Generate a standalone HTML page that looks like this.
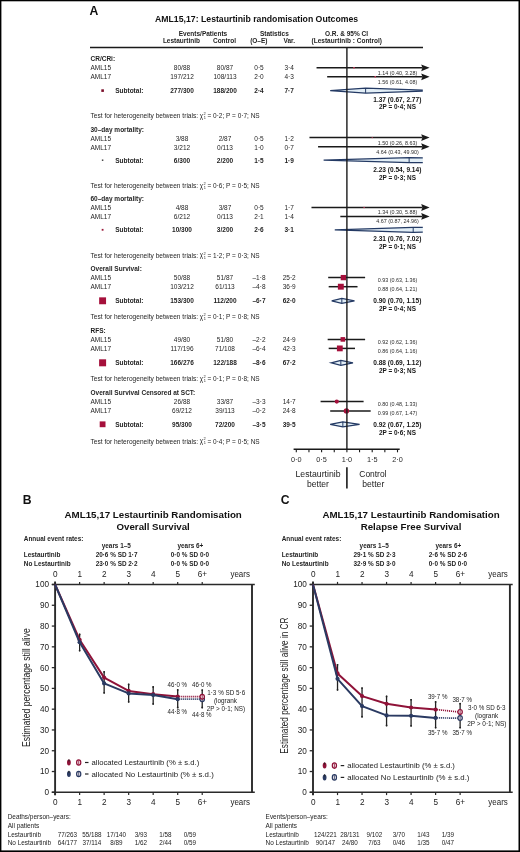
<!DOCTYPE html>
<html><head><meta charset="utf-8"><style>
html,body{margin:0;padding:0;background:#fff;}
body{width:520px;height:852px;overflow:hidden;}
svg{display:block;font-family:"Liberation Sans", sans-serif;}
</style></head><body>
<svg width="520" height="852" viewBox="0 0 520 852">
<defs><filter id="soft" x="-2%" y="-2%" width="104%" height="104%" color-interpolation-filters="sRGB"><feGaussianBlur stdDeviation="0.3"/></filter></defs>
<rect x="0" y="0" width="520" height="852" fill="#fff"/>
<g filter="url(#soft)">
<text x="89.60" y="14.80" font-size="12.2" font-weight="bold" fill="#111">A</text>
<text x="155.00" y="22.30" font-size="9.2" font-weight="bold" fill="#111" textLength="203.20" lengthAdjust="spacingAndGlyphs">AML15,17: Lestaurtinib randomisation Outcomes</text>
<text x="203.00" y="36.30" font-size="6.5" font-weight="bold" text-anchor="middle" fill="#1e1e1e">Events/Patients</text>
<text x="274.40" y="36.30" font-size="6.5" font-weight="bold" text-anchor="middle" fill="#1e1e1e">Statistics</text>
<text x="346.50" y="36.30" font-size="6.5" font-weight="bold" text-anchor="middle" fill="#1e1e1e">O.R. &amp; 95% CI</text>
<text x="181.50" y="43.30" font-size="6.5" font-weight="bold" text-anchor="middle" fill="#1e1e1e">Lestaurtinib</text>
<text x="224.50" y="43.30" font-size="6.5" font-weight="bold" text-anchor="middle" fill="#1e1e1e">Control</text>
<text x="258.80" y="43.30" font-size="6.5" font-weight="bold" text-anchor="middle" fill="#1e1e1e">(O–E)</text>
<text x="289.30" y="43.30" font-size="6.5" font-weight="bold" text-anchor="middle" fill="#1e1e1e">Var.</text>
<text x="346.80" y="43.30" font-size="6.5" font-weight="bold" text-anchor="middle" fill="#1e1e1e">(Lestaurtinib : Control)</text>
<line x1="90.00" y1="47.40" x2="423.00" y2="47.40" stroke="#1a1a1a" stroke-width="1.5"/>
<text x="90.50" y="61.40" font-size="6.5" font-weight="bold" fill="#1e1e1e">CR/CRi:</text>
<text x="90.50" y="70.30" font-size="6.5" fill="#1e1e1e">AML15</text>
<text x="182.00" y="70.30" font-size="6.5" text-anchor="middle" fill="#1e1e1e">80/88</text>
<text x="225.00" y="70.30" font-size="6.5" text-anchor="middle" fill="#1e1e1e">80/87</text>
<text x="259.00" y="70.30" font-size="6.5" text-anchor="middle" fill="#1e1e1e">0·5</text>
<text x="289.20" y="70.30" font-size="6.5" text-anchor="middle" fill="#1e1e1e">3·4</text>
<text x="90.50" y="79.30" font-size="6.5" fill="#1e1e1e">AML17</text>
<text x="182.00" y="79.30" font-size="6.5" text-anchor="middle" fill="#1e1e1e">197/212</text>
<text x="225.00" y="79.30" font-size="6.5" text-anchor="middle" fill="#1e1e1e">108/113</text>
<text x="259.00" y="79.30" font-size="6.5" text-anchor="middle" fill="#1e1e1e">2·0</text>
<text x="289.20" y="79.30" font-size="6.5" text-anchor="middle" fill="#1e1e1e">4·3</text>
<rect x="101.30" y="89.30" width="2.60" height="2.60" fill="#7a0e2a"/>
<text x="115.20" y="93.00" font-size="6.5" font-weight="bold" fill="#1e1e1e">Subtotal:</text>
<text x="182.00" y="93.00" font-size="6.5" font-weight="bold" text-anchor="middle" fill="#1e1e1e">277/300</text>
<text x="225.00" y="93.00" font-size="6.5" font-weight="bold" text-anchor="middle" fill="#1e1e1e">188/200</text>
<text x="259.00" y="93.00" font-size="6.5" font-weight="bold" text-anchor="middle" fill="#1e1e1e">2·4</text>
<text x="289.20" y="93.00" font-size="6.5" font-weight="bold" text-anchor="middle" fill="#1e1e1e">7·7</text>
<text x="90.50" y="118.20" font-size="6.5" fill="#1e1e1e" textLength="107.60" lengthAdjust="spacingAndGlyphs">Test for heterogeneity between trials:</text>
<text x="199.70" y="118.00" font-size="6.3" fill="#1e1e1e">χ</text>
<text x="203.50" y="115.10" font-size="3.9" fill="#1e1e1e">2</text>
<text x="203.80" y="119.10" font-size="3.9" fill="#1e1e1e">1</text>
<text x="207.50" y="118.20" font-size="6.5" fill="#1e1e1e" textLength="52.20" lengthAdjust="spacingAndGlyphs">= 0·2; P = 0·7; NS</text>
<line x1="316.54" y1="67.80" x2="422.50" y2="67.80" stroke="#1a1a1a" stroke-width="1.5"/>
<path d="M421.2,64.40 L429.6,67.80 L421.2,71.20 L422.4,67.80 Z" fill="#1a1a1a" stroke="none" stroke-width="1"/>
<rect x="353.23" y="67.05" width="1.50" height="1.50" fill="#d04060"/>
<text x="397.50" y="74.60" font-size="5.4" text-anchor="middle" fill="#2a2a2a">1.14 (0.40, 3.28)</text>
<line x1="327.17" y1="76.80" x2="422.50" y2="76.80" stroke="#1a1a1a" stroke-width="1.5"/>
<path d="M421.2,73.40 L429.6,76.80 L421.2,80.20 L422.4,76.80 Z" fill="#1a1a1a" stroke="none" stroke-width="1"/>
<rect x="374.49" y="76.05" width="1.50" height="1.50" fill="#d04060"/>
<text x="397.50" y="83.60" font-size="5.4" text-anchor="middle" fill="#2a2a2a">1.56 (0.61, 4.08)</text>
<path d="M330.20,90.60 L365.62,88.10 L422.80,90.10 L422.80,91.10 L365.62,93.10 Z" fill="#e2eef6" stroke="none" stroke-width="1"/>
<path d="M422.80,90.10 L365.62,88.10 L330.20,90.60 L365.62,93.10 L422.80,91.10" fill="none" stroke="#243a64" stroke-width="1.3"/>
<line x1="365.62" y1="88.10" x2="365.62" y2="93.10" stroke="#243a64" stroke-width="1.0"/>
<text x="397.30" y="101.50" font-size="6.55" font-weight="bold" text-anchor="middle" fill="#151515">1.37 (0.67, 2.77)</text>
<text x="397.50" y="109.40" font-size="6.4" font-weight="bold" text-anchor="middle" fill="#151515">2P = 0·4; NS</text>
<text x="90.50" y="131.60" font-size="6.5" font-weight="bold" fill="#1e1e1e">30–day mortality:</text>
<text x="90.50" y="140.50" font-size="6.5" fill="#1e1e1e">AML15</text>
<text x="182.00" y="140.50" font-size="6.5" text-anchor="middle" fill="#1e1e1e">3/88</text>
<text x="225.00" y="140.50" font-size="6.5" text-anchor="middle" fill="#1e1e1e">2/87</text>
<text x="259.00" y="140.50" font-size="6.5" text-anchor="middle" fill="#1e1e1e">0·5</text>
<text x="289.20" y="140.50" font-size="6.5" text-anchor="middle" fill="#1e1e1e">1·2</text>
<text x="90.50" y="149.50" font-size="6.5" fill="#1e1e1e">AML17</text>
<text x="182.00" y="149.50" font-size="6.5" text-anchor="middle" fill="#1e1e1e">3/212</text>
<text x="225.00" y="149.50" font-size="6.5" text-anchor="middle" fill="#1e1e1e">0/113</text>
<text x="259.00" y="149.50" font-size="6.5" text-anchor="middle" fill="#1e1e1e">1·0</text>
<text x="289.20" y="149.50" font-size="6.5" text-anchor="middle" fill="#1e1e1e">0·7</text>
<rect x="101.85" y="159.45" width="1.50" height="1.50" fill="#444"/>
<text x="115.20" y="163.20" font-size="6.5" font-weight="bold" fill="#1e1e1e">Subtotal:</text>
<text x="182.00" y="163.20" font-size="6.5" font-weight="bold" text-anchor="middle" fill="#1e1e1e">6/300</text>
<text x="225.00" y="163.20" font-size="6.5" font-weight="bold" text-anchor="middle" fill="#1e1e1e">2/200</text>
<text x="259.00" y="163.20" font-size="6.5" font-weight="bold" text-anchor="middle" fill="#1e1e1e">1·5</text>
<text x="289.20" y="163.20" font-size="6.5" font-weight="bold" text-anchor="middle" fill="#1e1e1e">1·9</text>
<text x="90.50" y="188.40" font-size="6.5" fill="#1e1e1e" textLength="107.60" lengthAdjust="spacingAndGlyphs">Test for heterogeneity between trials:</text>
<text x="199.70" y="188.20" font-size="6.3" fill="#1e1e1e">χ</text>
<text x="203.50" y="185.30" font-size="3.9" fill="#1e1e1e">2</text>
<text x="203.80" y="189.30" font-size="3.9" fill="#1e1e1e">1</text>
<text x="207.50" y="188.40" font-size="6.5" fill="#1e1e1e" textLength="52.20" lengthAdjust="spacingAndGlyphs">= 0·6; P = 0·5; NS</text>
<line x1="309.46" y1="137.60" x2="422.50" y2="137.60" stroke="#1a1a1a" stroke-width="1.5"/>
<path d="M421.2,134.20 L429.6,137.60 L421.2,141.00 L422.4,137.60 Z" fill="#1a1a1a" stroke="none" stroke-width="1"/>
<rect x="371.70" y="137.10" width="1.00" height="1.00" fill="#d04060"/>
<text x="397.50" y="144.80" font-size="5.4" text-anchor="middle" fill="#2a2a2a">1.50 (0.26, 8.63)</text>
<line x1="318.06" y1="146.70" x2="422.50" y2="146.70" stroke="#1a1a1a" stroke-width="1.5"/>
<path d="M421.2,143.30 L429.6,146.70 L421.2,150.10 L422.4,146.70 Z" fill="#1a1a1a" stroke="none" stroke-width="1"/>
<text x="397.50" y="153.80" font-size="5.4" text-anchor="middle" fill="#2a2a2a">4.64 (0.43, 49.90)</text>
<path d="M323.62,160.20 L409.14,157.70 L422.80,157.80 L422.80,162.60 L409.14,162.70 Z" fill="#e2eef6" stroke="none" stroke-width="1"/>
<path d="M422.80,157.80 L409.14,157.70 L323.62,160.20 L409.14,162.70 L422.80,162.60" fill="none" stroke="#243a64" stroke-width="1.3"/>
<line x1="409.14" y1="157.70" x2="409.14" y2="162.70" stroke="#243a64" stroke-width="1.0"/>
<text x="397.30" y="171.70" font-size="6.55" font-weight="bold" text-anchor="middle" fill="#151515">2.23 (0.54, 9.14)</text>
<text x="397.50" y="179.60" font-size="6.4" font-weight="bold" text-anchor="middle" fill="#151515">2P = 0·3; NS</text>
<text x="90.50" y="200.80" font-size="6.5" font-weight="bold" fill="#1e1e1e">60–day mortality:</text>
<text x="90.50" y="209.70" font-size="6.5" fill="#1e1e1e">AML15</text>
<text x="182.00" y="209.70" font-size="6.5" text-anchor="middle" fill="#1e1e1e">4/88</text>
<text x="225.00" y="209.70" font-size="6.5" text-anchor="middle" fill="#1e1e1e">3/87</text>
<text x="259.00" y="209.70" font-size="6.5" text-anchor="middle" fill="#1e1e1e">0·5</text>
<text x="289.20" y="209.70" font-size="6.5" text-anchor="middle" fill="#1e1e1e">1·7</text>
<text x="90.50" y="218.70" font-size="6.5" fill="#1e1e1e">AML17</text>
<text x="182.00" y="218.70" font-size="6.5" text-anchor="middle" fill="#1e1e1e">6/212</text>
<text x="225.00" y="218.70" font-size="6.5" text-anchor="middle" fill="#1e1e1e">0/113</text>
<text x="259.00" y="218.70" font-size="6.5" text-anchor="middle" fill="#1e1e1e">2·1</text>
<text x="289.20" y="218.70" font-size="6.5" text-anchor="middle" fill="#1e1e1e">1·4</text>
<rect x="101.70" y="228.90" width="1.80" height="1.80" fill="#9a1a3a"/>
<text x="115.20" y="232.40" font-size="6.5" font-weight="bold" fill="#1e1e1e">Subtotal:</text>
<text x="182.00" y="232.40" font-size="6.5" font-weight="bold" text-anchor="middle" fill="#1e1e1e">10/300</text>
<text x="225.00" y="232.40" font-size="6.5" font-weight="bold" text-anchor="middle" fill="#1e1e1e">3/200</text>
<text x="259.00" y="232.40" font-size="6.5" font-weight="bold" text-anchor="middle" fill="#1e1e1e">2·6</text>
<text x="289.20" y="232.40" font-size="6.5" font-weight="bold" text-anchor="middle" fill="#1e1e1e">3·1</text>
<text x="90.50" y="257.60" font-size="6.5" fill="#1e1e1e" textLength="107.60" lengthAdjust="spacingAndGlyphs">Test for heterogeneity between trials:</text>
<text x="199.70" y="257.40" font-size="6.3" fill="#1e1e1e">χ</text>
<text x="203.50" y="254.50" font-size="3.9" fill="#1e1e1e">2</text>
<text x="203.80" y="258.50" font-size="3.9" fill="#1e1e1e">1</text>
<text x="207.50" y="257.60" font-size="6.5" fill="#1e1e1e" textLength="52.20" lengthAdjust="spacingAndGlyphs">= 1·2; P = 0·3; NS</text>
<line x1="311.48" y1="207.50" x2="422.50" y2="207.50" stroke="#1a1a1a" stroke-width="1.5"/>
<path d="M421.2,204.10 L429.6,207.50 L421.2,210.90 L422.4,207.50 Z" fill="#1a1a1a" stroke="none" stroke-width="1"/>
<rect x="363.50" y="206.90" width="1.20" height="1.20" fill="#d04060"/>
<text x="397.50" y="214.00" font-size="5.4" text-anchor="middle" fill="#2a2a2a">1.34 (0.30, 5.88)</text>
<line x1="340.32" y1="216.40" x2="422.50" y2="216.40" stroke="#1a1a1a" stroke-width="1.5"/>
<path d="M421.2,213.00 L429.6,216.40 L421.2,219.80 L422.4,216.40 Z" fill="#1a1a1a" stroke="none" stroke-width="1"/>
<text x="397.50" y="223.00" font-size="5.4" text-anchor="middle" fill="#2a2a2a">4.67 (0.87, 24.96)</text>
<path d="M334.76,229.80 L413.19,227.30 L422.80,227.40 L422.80,232.20 L413.19,232.30 Z" fill="#e2eef6" stroke="none" stroke-width="1"/>
<path d="M422.80,227.40 L413.19,227.30 L334.76,229.80 L413.19,232.30 L422.80,232.20" fill="none" stroke="#243a64" stroke-width="1.3"/>
<line x1="413.19" y1="227.30" x2="413.19" y2="232.30" stroke="#243a64" stroke-width="1.0"/>
<text x="397.30" y="240.90" font-size="6.55" font-weight="bold" text-anchor="middle" fill="#151515">2.31 (0.76, 7.02)</text>
<text x="397.50" y="248.80" font-size="6.4" font-weight="bold" text-anchor="middle" fill="#151515">2P = 0·1; NS</text>
<text x="90.50" y="271.00" font-size="6.5" font-weight="bold" fill="#1e1e1e">Overall Survival:</text>
<text x="90.50" y="279.90" font-size="6.5" fill="#1e1e1e">AML15</text>
<text x="182.00" y="279.90" font-size="6.5" text-anchor="middle" fill="#1e1e1e">50/88</text>
<text x="225.00" y="279.90" font-size="6.5" text-anchor="middle" fill="#1e1e1e">51/87</text>
<text x="259.00" y="279.90" font-size="6.5" text-anchor="middle" fill="#1e1e1e">–1·8</text>
<text x="289.20" y="279.90" font-size="6.5" text-anchor="middle" fill="#1e1e1e">25·2</text>
<text x="90.50" y="288.90" font-size="6.5" fill="#1e1e1e">AML17</text>
<text x="182.00" y="288.90" font-size="6.5" text-anchor="middle" fill="#1e1e1e">103/212</text>
<text x="225.00" y="288.90" font-size="6.5" text-anchor="middle" fill="#1e1e1e">61/113</text>
<text x="259.00" y="288.90" font-size="6.5" text-anchor="middle" fill="#1e1e1e">–4·8</text>
<text x="289.20" y="288.90" font-size="6.5" text-anchor="middle" fill="#1e1e1e">36·9</text>
<rect x="99.15" y="297.35" width="6.90" height="6.90" fill="#a5103b"/>
<text x="115.20" y="302.60" font-size="6.5" font-weight="bold" fill="#1e1e1e">Subtotal:</text>
<text x="182.00" y="302.60" font-size="6.5" font-weight="bold" text-anchor="middle" fill="#1e1e1e">153/300</text>
<text x="225.00" y="302.60" font-size="6.5" font-weight="bold" text-anchor="middle" fill="#1e1e1e">112/200</text>
<text x="259.00" y="302.60" font-size="6.5" font-weight="bold" text-anchor="middle" fill="#1e1e1e">–6·7</text>
<text x="289.20" y="302.60" font-size="6.5" font-weight="bold" text-anchor="middle" fill="#1e1e1e">62·0</text>
<text x="90.50" y="319.20" font-size="6.5" fill="#1e1e1e" textLength="107.60" lengthAdjust="spacingAndGlyphs">Test for heterogeneity between trials:</text>
<text x="199.70" y="319.00" font-size="6.3" fill="#1e1e1e">χ</text>
<text x="203.50" y="316.10" font-size="3.9" fill="#1e1e1e">2</text>
<text x="203.80" y="320.10" font-size="3.9" fill="#1e1e1e">1</text>
<text x="207.50" y="319.20" font-size="6.5" fill="#1e1e1e" textLength="52.20" lengthAdjust="spacingAndGlyphs">= 0·1; P = 0·8; NS</text>
<line x1="328.18" y1="277.60" x2="365.12" y2="277.60" stroke="#1a1a1a" stroke-width="1.5"/>
<rect x="340.71" y="274.95" width="5.30" height="5.30" fill="#a5103b"/>
<text x="397.50" y="282.00" font-size="5.4" text-anchor="middle" fill="#2a2a2a">0.93 (0.63, 1.36)</text>
<line x1="328.68" y1="286.70" x2="357.53" y2="286.70" stroke="#1a1a1a" stroke-width="1.5"/>
<rect x="337.88" y="283.75" width="5.90" height="5.90" fill="#a5103b"/>
<text x="397.50" y="291.00" font-size="5.4" text-anchor="middle" fill="#2a2a2a">0.88 (0.64, 1.21)</text>
<path d="M331.72,300.80 L341.84,298.30 L354.49,300.80 L341.84,303.30 Z" fill="#e2eef6" stroke="#243a64" stroke-width="1.3"/>
<line x1="341.84" y1="298.30" x2="341.84" y2="303.30" stroke="#243a64" stroke-width="1.0"/>
<text x="397.30" y="302.90" font-size="6.55" font-weight="bold" text-anchor="middle" fill="#151515">0.90 (0.70, 1.15)</text>
<text x="397.50" y="310.80" font-size="6.4" font-weight="bold" text-anchor="middle" fill="#151515">2P = 0·4; NS</text>
<text x="90.50" y="333.20" font-size="6.5" font-weight="bold" fill="#1e1e1e">RFS:</text>
<text x="90.50" y="342.10" font-size="6.5" fill="#1e1e1e">AML15</text>
<text x="182.00" y="342.10" font-size="6.5" text-anchor="middle" fill="#1e1e1e">49/80</text>
<text x="225.00" y="342.10" font-size="6.5" text-anchor="middle" fill="#1e1e1e">51/80</text>
<text x="259.00" y="342.10" font-size="6.5" text-anchor="middle" fill="#1e1e1e">–2·2</text>
<text x="289.20" y="342.10" font-size="6.5" text-anchor="middle" fill="#1e1e1e">24·9</text>
<text x="90.50" y="351.10" font-size="6.5" fill="#1e1e1e">AML17</text>
<text x="182.00" y="351.10" font-size="6.5" text-anchor="middle" fill="#1e1e1e">117/196</text>
<text x="225.00" y="351.10" font-size="6.5" text-anchor="middle" fill="#1e1e1e">71/108</text>
<text x="259.00" y="351.10" font-size="6.5" text-anchor="middle" fill="#1e1e1e">–6·4</text>
<text x="289.20" y="351.10" font-size="6.5" text-anchor="middle" fill="#1e1e1e">42·3</text>
<rect x="99.10" y="359.30" width="7.00" height="7.00" fill="#a5103b"/>
<text x="115.20" y="364.80" font-size="6.5" font-weight="bold" fill="#1e1e1e">Subtotal:</text>
<text x="182.00" y="364.80" font-size="6.5" font-weight="bold" text-anchor="middle" fill="#1e1e1e">166/276</text>
<text x="225.00" y="364.80" font-size="6.5" font-weight="bold" text-anchor="middle" fill="#1e1e1e">122/188</text>
<text x="259.00" y="364.80" font-size="6.5" font-weight="bold" text-anchor="middle" fill="#1e1e1e">–8·6</text>
<text x="289.20" y="364.80" font-size="6.5" font-weight="bold" text-anchor="middle" fill="#1e1e1e">67·2</text>
<text x="90.50" y="381.40" font-size="6.5" fill="#1e1e1e" textLength="107.60" lengthAdjust="spacingAndGlyphs">Test for heterogeneity between trials:</text>
<text x="199.70" y="381.20" font-size="6.3" fill="#1e1e1e">χ</text>
<text x="203.50" y="378.30" font-size="3.9" fill="#1e1e1e">2</text>
<text x="203.80" y="382.30" font-size="3.9" fill="#1e1e1e">1</text>
<text x="207.50" y="381.40" font-size="6.5" fill="#1e1e1e" textLength="52.20" lengthAdjust="spacingAndGlyphs">= 0·1; P = 0·8; NS</text>
<line x1="327.67" y1="339.40" x2="365.12" y2="339.40" stroke="#1a1a1a" stroke-width="1.5"/>
<rect x="340.55" y="337.10" width="4.60" height="4.60" fill="#a5103b"/>
<text x="397.50" y="344.20" font-size="5.4" text-anchor="middle" fill="#2a2a2a">0.92 (0.62, 1.36)</text>
<line x1="328.68" y1="348.40" x2="355.00" y2="348.40" stroke="#1a1a1a" stroke-width="1.5"/>
<rect x="336.92" y="345.50" width="5.80" height="5.80" fill="#a5103b"/>
<text x="397.50" y="353.20" font-size="5.4" text-anchor="middle" fill="#2a2a2a">0.86 (0.64, 1.16)</text>
<path d="M331.21,362.80 L340.83,360.30 L352.97,362.80 L340.83,365.30 Z" fill="#e2eef6" stroke="#243a64" stroke-width="1.3"/>
<line x1="340.83" y1="360.30" x2="340.83" y2="365.30" stroke="#243a64" stroke-width="1.0"/>
<text x="397.30" y="365.10" font-size="6.55" font-weight="bold" text-anchor="middle" fill="#151515">0.88 (0.69, 1.12)</text>
<text x="397.50" y="373.00" font-size="6.4" font-weight="bold" text-anchor="middle" fill="#151515">2P = 0·3; NS</text>
<text x="90.50" y="395.30" font-size="6.5" font-weight="bold" fill="#1e1e1e">Overall Survival Censored at SCT:</text>
<text x="90.50" y="404.20" font-size="6.5" fill="#1e1e1e">AML15</text>
<text x="182.00" y="404.20" font-size="6.5" text-anchor="middle" fill="#1e1e1e">26/88</text>
<text x="225.00" y="404.20" font-size="6.5" text-anchor="middle" fill="#1e1e1e">33/87</text>
<text x="259.00" y="404.20" font-size="6.5" text-anchor="middle" fill="#1e1e1e">–3·3</text>
<text x="289.20" y="404.20" font-size="6.5" text-anchor="middle" fill="#1e1e1e">14·7</text>
<text x="90.50" y="413.20" font-size="6.5" fill="#1e1e1e">AML17</text>
<text x="182.00" y="413.20" font-size="6.5" text-anchor="middle" fill="#1e1e1e">69/212</text>
<text x="225.00" y="413.20" font-size="6.5" text-anchor="middle" fill="#1e1e1e">39/113</text>
<text x="259.00" y="413.20" font-size="6.5" text-anchor="middle" fill="#1e1e1e">–0·2</text>
<text x="289.20" y="413.20" font-size="6.5" text-anchor="middle" fill="#1e1e1e">24·8</text>
<rect x="99.70" y="421.40" width="5.80" height="5.80" fill="#a5103b"/>
<text x="115.20" y="426.90" font-size="6.5" font-weight="bold" fill="#1e1e1e">Subtotal:</text>
<text x="182.00" y="426.90" font-size="6.5" font-weight="bold" text-anchor="middle" fill="#1e1e1e">95/300</text>
<text x="225.00" y="426.90" font-size="6.5" font-weight="bold" text-anchor="middle" fill="#1e1e1e">72/200</text>
<text x="259.00" y="426.90" font-size="6.5" font-weight="bold" text-anchor="middle" fill="#1e1e1e">–3·5</text>
<text x="289.20" y="426.90" font-size="6.5" font-weight="bold" text-anchor="middle" fill="#1e1e1e">39·5</text>
<text x="90.50" y="443.50" font-size="6.5" fill="#1e1e1e" textLength="107.60" lengthAdjust="spacingAndGlyphs">Test for heterogeneity between trials:</text>
<text x="199.70" y="443.30" font-size="6.3" fill="#1e1e1e">χ</text>
<text x="203.50" y="440.40" font-size="3.9" fill="#1e1e1e">2</text>
<text x="203.80" y="444.40" font-size="3.9" fill="#1e1e1e">1</text>
<text x="207.50" y="443.50" font-size="6.5" fill="#1e1e1e" textLength="52.20" lengthAdjust="spacingAndGlyphs">= 0·4; P = 0·5; NS</text>
<line x1="320.59" y1="401.60" x2="363.60" y2="401.60" stroke="#1a1a1a" stroke-width="1.5"/>
<circle cx="336.78" cy="401.60" r="2.10" fill="#a5103b" stroke="none" stroke-width="1"/>
<text x="397.50" y="406.30" font-size="5.4" text-anchor="middle" fill="#2a2a2a">0.80 (0.48, 1.33)</text>
<line x1="330.20" y1="410.90" x2="370.68" y2="410.90" stroke="#1a1a1a" stroke-width="1.5"/>
<circle cx="346.39" cy="410.90" r="2.70" fill="#a5103b" stroke="none" stroke-width="1"/>
<text x="397.50" y="415.30" font-size="5.4" text-anchor="middle" fill="#2a2a2a">0.99 (0.67, 1.47)</text>
<path d="M330.20,424.30 L342.85,421.80 L359.55,424.30 L342.85,426.80 Z" fill="#e2eef6" stroke="#243a64" stroke-width="1.3"/>
<line x1="342.85" y1="421.80" x2="342.85" y2="426.80" stroke="#243a64" stroke-width="1.0"/>
<text x="397.30" y="427.20" font-size="6.55" font-weight="bold" text-anchor="middle" fill="#151515">0.92 (0.67, 1.25)</text>
<text x="397.50" y="435.10" font-size="6.4" font-weight="bold" text-anchor="middle" fill="#151515">2P = 0·6; NS</text>
<line x1="346.90" y1="47.40" x2="346.90" y2="449.60" stroke="#1a1a1a" stroke-width="1.4"/>
<line x1="293.60" y1="449.30" x2="399.70" y2="449.30" stroke="#1a1a1a" stroke-width="1.4"/>
<line x1="296.30" y1="449.30" x2="296.30" y2="452.30" stroke="#1a1a1a" stroke-width="1.1"/>
<line x1="308.95" y1="449.30" x2="308.95" y2="452.30" stroke="#1a1a1a" stroke-width="1.1"/>
<line x1="321.60" y1="449.30" x2="321.60" y2="452.30" stroke="#1a1a1a" stroke-width="1.1"/>
<line x1="334.25" y1="449.30" x2="334.25" y2="452.30" stroke="#1a1a1a" stroke-width="1.1"/>
<line x1="346.90" y1="449.30" x2="346.90" y2="452.30" stroke="#1a1a1a" stroke-width="1.1"/>
<line x1="359.55" y1="449.30" x2="359.55" y2="452.30" stroke="#1a1a1a" stroke-width="1.1"/>
<line x1="372.20" y1="449.30" x2="372.20" y2="452.30" stroke="#1a1a1a" stroke-width="1.1"/>
<line x1="384.85" y1="449.30" x2="384.85" y2="452.30" stroke="#1a1a1a" stroke-width="1.1"/>
<line x1="397.50" y1="449.30" x2="397.50" y2="452.30" stroke="#1a1a1a" stroke-width="1.1"/>
<text x="296.30" y="462.40" font-size="7.3" text-anchor="middle" fill="#2a2a2a">0·0</text>
<text x="321.60" y="462.40" font-size="7.3" text-anchor="middle" fill="#2a2a2a">0·5</text>
<text x="346.90" y="462.40" font-size="7.3" text-anchor="middle" fill="#2a2a2a">1·0</text>
<text x="372.20" y="462.40" font-size="7.3" text-anchor="middle" fill="#2a2a2a">1·5</text>
<text x="397.50" y="462.40" font-size="7.3" text-anchor="middle" fill="#2a2a2a">2·0</text>
<text x="295.50" y="476.90" font-size="9.6" fill="#222" textLength="45.00" lengthAdjust="spacingAndGlyphs">Lestaurtinib</text>
<text x="307.05" y="487.40" font-size="9.6" fill="#222" textLength="21.90" lengthAdjust="spacingAndGlyphs">better</text>
<text x="359.30" y="476.90" font-size="9.6" fill="#222" textLength="27.20" lengthAdjust="spacingAndGlyphs">Control</text>
<text x="362.35" y="487.40" font-size="9.6" fill="#222" textLength="21.90" lengthAdjust="spacingAndGlyphs">better</text>
<line x1="346.90" y1="467.20" x2="346.90" y2="488.60" stroke="#1a1a1a" stroke-width="1.6"/>
<text x="22.80" y="503.90" font-size="12.2" font-weight="bold" fill="#111">B</text>
<text x="64.55" y="517.50" font-size="9.7" font-weight="bold" fill="#111" textLength="177.30" lengthAdjust="spacingAndGlyphs">AML15,17 Lestaurtinib Randomisation</text>
<text x="153.20" y="529.60" font-size="9.7" font-weight="bold" text-anchor="middle" fill="#111">Overall Survival</text>
<text x="23.80" y="540.80" font-size="6.4" font-weight="bold" fill="#1e1e1e" textLength="59.60" lengthAdjust="spacingAndGlyphs">Annual event rates:</text>
<text x="116.30" y="547.70" font-size="6.4" font-weight="bold" text-anchor="middle" fill="#1e1e1e">years 1–5</text>
<text x="190.40" y="547.70" font-size="6.4" font-weight="bold" text-anchor="middle" fill="#1e1e1e">years 6+</text>
<text x="23.80" y="556.80" font-size="6.4" font-weight="bold" fill="#1e1e1e">Lestaurtinib</text>
<text x="23.80" y="565.70" font-size="6.4" font-weight="bold" fill="#1e1e1e">No Lestaurtinib</text>
<text x="116.60" y="556.80" font-size="6.4" font-weight="bold" text-anchor="middle" fill="#1e1e1e">20·6 % SD 1·7</text>
<text x="190.00" y="556.80" font-size="6.4" font-weight="bold" text-anchor="middle" fill="#1e1e1e">0·0 % SD 0·0</text>
<text x="116.60" y="565.70" font-size="6.4" font-weight="bold" text-anchor="middle" fill="#1e1e1e">23·0 % SD 2·2</text>
<text x="190.00" y="565.70" font-size="6.4" font-weight="bold" text-anchor="middle" fill="#1e1e1e">0·0 % SD 0·0</text>
<line x1="51.80" y1="584.50" x2="254.80" y2="584.50" stroke="#2a2a2a" stroke-width="1.4"/>
<line x1="51.80" y1="792.30" x2="254.80" y2="792.30" stroke="#2a2a2a" stroke-width="1.6"/>
<line x1="55.10" y1="581.50" x2="55.10" y2="795.30" stroke="#2a2a2a" stroke-width="1.9"/>
<line x1="252.00" y1="584.50" x2="252.00" y2="792.30" stroke="#2a2a2a" stroke-width="1.9"/>
<line x1="55.10" y1="584.50" x2="55.10" y2="581.90" stroke="#2a2a2a" stroke-width="1.2"/>
<line x1="55.10" y1="792.30" x2="55.10" y2="795.10" stroke="#2a2a2a" stroke-width="1.2"/>
<text x="55.30" y="577.30" font-size="8.2" text-anchor="middle" fill="#222">0</text>
<text x="55.30" y="804.50" font-size="8.2" text-anchor="middle" fill="#222">0</text>
<line x1="79.62" y1="584.50" x2="79.62" y2="581.90" stroke="#2a2a2a" stroke-width="1.2"/>
<line x1="79.62" y1="792.30" x2="79.62" y2="795.10" stroke="#2a2a2a" stroke-width="1.2"/>
<text x="79.82" y="577.30" font-size="8.2" text-anchor="middle" fill="#222">1</text>
<text x="79.82" y="804.50" font-size="8.2" text-anchor="middle" fill="#222">1</text>
<line x1="104.14" y1="584.50" x2="104.14" y2="581.90" stroke="#2a2a2a" stroke-width="1.2"/>
<line x1="104.14" y1="792.30" x2="104.14" y2="795.10" stroke="#2a2a2a" stroke-width="1.2"/>
<text x="104.34" y="577.30" font-size="8.2" text-anchor="middle" fill="#222">2</text>
<text x="104.34" y="804.50" font-size="8.2" text-anchor="middle" fill="#222">2</text>
<line x1="128.66" y1="584.50" x2="128.66" y2="581.90" stroke="#2a2a2a" stroke-width="1.2"/>
<line x1="128.66" y1="792.30" x2="128.66" y2="795.10" stroke="#2a2a2a" stroke-width="1.2"/>
<text x="128.86" y="577.30" font-size="8.2" text-anchor="middle" fill="#222">3</text>
<text x="128.86" y="804.50" font-size="8.2" text-anchor="middle" fill="#222">3</text>
<line x1="153.18" y1="584.50" x2="153.18" y2="581.90" stroke="#2a2a2a" stroke-width="1.2"/>
<line x1="153.18" y1="792.30" x2="153.18" y2="795.10" stroke="#2a2a2a" stroke-width="1.2"/>
<text x="153.38" y="577.30" font-size="8.2" text-anchor="middle" fill="#222">4</text>
<text x="153.38" y="804.50" font-size="8.2" text-anchor="middle" fill="#222">4</text>
<line x1="177.70" y1="584.50" x2="177.70" y2="581.90" stroke="#2a2a2a" stroke-width="1.2"/>
<line x1="177.70" y1="792.30" x2="177.70" y2="795.10" stroke="#2a2a2a" stroke-width="1.2"/>
<text x="177.90" y="577.30" font-size="8.2" text-anchor="middle" fill="#222">5</text>
<text x="177.90" y="804.50" font-size="8.2" text-anchor="middle" fill="#222">5</text>
<line x1="202.22" y1="584.50" x2="202.22" y2="581.90" stroke="#2a2a2a" stroke-width="1.2"/>
<line x1="202.22" y1="792.30" x2="202.22" y2="795.10" stroke="#2a2a2a" stroke-width="1.2"/>
<text x="202.42" y="577.30" font-size="8.2" text-anchor="middle" fill="#222">6+</text>
<text x="202.42" y="804.50" font-size="8.2" text-anchor="middle" fill="#222">6+</text>
<text x="230.45" y="577.30" font-size="8.2" fill="#222" textLength="19.50" lengthAdjust="spacingAndGlyphs">years</text>
<text x="230.45" y="804.50" font-size="8.2" fill="#222" textLength="19.50" lengthAdjust="spacingAndGlyphs">years</text>
<line x1="51.80" y1="792.30" x2="55.10" y2="792.30" stroke="#2a2a2a" stroke-width="1.3"/>
<text x="49.00" y="795.25" font-size="8.2" text-anchor="end" fill="#222">0</text>
<line x1="51.80" y1="771.52" x2="55.10" y2="771.52" stroke="#2a2a2a" stroke-width="1.3"/>
<text x="49.00" y="774.47" font-size="8.2" text-anchor="end" fill="#222">10</text>
<line x1="51.80" y1="750.74" x2="55.10" y2="750.74" stroke="#2a2a2a" stroke-width="1.3"/>
<text x="49.00" y="753.69" font-size="8.2" text-anchor="end" fill="#222">20</text>
<line x1="51.80" y1="729.96" x2="55.10" y2="729.96" stroke="#2a2a2a" stroke-width="1.3"/>
<text x="49.00" y="732.91" font-size="8.2" text-anchor="end" fill="#222">30</text>
<line x1="51.80" y1="709.18" x2="55.10" y2="709.18" stroke="#2a2a2a" stroke-width="1.3"/>
<text x="49.00" y="712.13" font-size="8.2" text-anchor="end" fill="#222">40</text>
<line x1="51.80" y1="688.40" x2="55.10" y2="688.40" stroke="#2a2a2a" stroke-width="1.3"/>
<text x="49.00" y="691.35" font-size="8.2" text-anchor="end" fill="#222">50</text>
<line x1="51.80" y1="667.62" x2="55.10" y2="667.62" stroke="#2a2a2a" stroke-width="1.3"/>
<text x="49.00" y="670.57" font-size="8.2" text-anchor="end" fill="#222">60</text>
<line x1="51.80" y1="646.84" x2="55.10" y2="646.84" stroke="#2a2a2a" stroke-width="1.3"/>
<text x="49.00" y="649.79" font-size="8.2" text-anchor="end" fill="#222">70</text>
<line x1="51.80" y1="626.06" x2="55.10" y2="626.06" stroke="#2a2a2a" stroke-width="1.3"/>
<text x="49.00" y="629.01" font-size="8.2" text-anchor="end" fill="#222">80</text>
<line x1="51.80" y1="605.28" x2="55.10" y2="605.28" stroke="#2a2a2a" stroke-width="1.3"/>
<text x="49.00" y="608.23" font-size="8.2" text-anchor="end" fill="#222">90</text>
<line x1="51.80" y1="584.50" x2="55.10" y2="584.50" stroke="#2a2a2a" stroke-width="1.3"/>
<text x="49.00" y="587.45" font-size="8.2" text-anchor="end" fill="#222">100</text>
<text transform="translate(29.90,687.60) rotate(-90)" font-size="10.2" fill="#222" x="-59.45" y="0" textLength="118.90" lengthAdjust="spacingAndGlyphs">Estimated percentage still alive</text>
<line x1="79.62" y1="633.70" x2="79.62" y2="651.30" stroke="#222" stroke-width="1.3"/>
<circle cx="79.62" cy="634.40" r="0.90" fill="#222" stroke="none" stroke-width="1"/>
<circle cx="79.62" cy="650.60" r="0.90" fill="#222" stroke="none" stroke-width="1"/>
<line x1="104.14" y1="671.20" x2="104.14" y2="693.50" stroke="#222" stroke-width="1.3"/>
<circle cx="104.14" cy="671.90" r="0.90" fill="#222" stroke="none" stroke-width="1"/>
<circle cx="104.14" cy="692.80" r="0.90" fill="#222" stroke="none" stroke-width="1"/>
<line x1="128.66" y1="683.80" x2="128.66" y2="702.50" stroke="#222" stroke-width="1.3"/>
<circle cx="128.66" cy="684.50" r="0.90" fill="#222" stroke="none" stroke-width="1"/>
<circle cx="128.66" cy="701.80" r="0.90" fill="#222" stroke="none" stroke-width="1"/>
<line x1="153.18" y1="686.30" x2="153.18" y2="704.60" stroke="#222" stroke-width="1.3"/>
<circle cx="153.18" cy="687.00" r="0.90" fill="#222" stroke="none" stroke-width="1"/>
<circle cx="153.18" cy="703.90" r="0.90" fill="#222" stroke="none" stroke-width="1"/>
<line x1="177.70" y1="689.20" x2="177.70" y2="708.20" stroke="#222" stroke-width="1.3"/>
<circle cx="177.70" cy="689.90" r="0.90" fill="#222" stroke="none" stroke-width="1"/>
<circle cx="177.70" cy="707.50" r="0.90" fill="#222" stroke="none" stroke-width="1"/>
<line x1="202.22" y1="689.40" x2="202.22" y2="708.20" stroke="#222" stroke-width="1.3"/>
<circle cx="202.22" cy="690.10" r="0.90" fill="#222" stroke="none" stroke-width="1"/>
<circle cx="202.22" cy="707.50" r="0.90" fill="#222" stroke="none" stroke-width="1"/>
<path d="M55.10,584.50 L79.62,639.77 L104.14,677.59 L128.66,690.89 L153.18,694.22 L177.70,696.50" fill="none" stroke="#8f1238" stroke-width="2.0" stroke-linejoin="round"/>
<line x1="179.20" y1="696.50" x2="199.92" y2="696.71" stroke="#8f1238" stroke-width="1.7" stroke-dasharray="1.1,0.9"/>
<circle cx="79.62" cy="639.77" r="2.10" fill="#8f1238" stroke="none" stroke-width="1"/>
<circle cx="104.14" cy="677.59" r="2.10" fill="#8f1238" stroke="none" stroke-width="1"/>
<circle cx="128.66" cy="690.89" r="2.10" fill="#8f1238" stroke="none" stroke-width="1"/>
<circle cx="153.18" cy="694.22" r="2.10" fill="#8f1238" stroke="none" stroke-width="1"/>
<circle cx="177.70" cy="696.50" r="2.10" fill="#8f1238" stroke="none" stroke-width="1"/>
<path d="M55.10,584.50 L79.62,642.27 L104.14,683.41 L128.66,693.39 L153.18,695.05 L177.70,699.21" fill="none" stroke="#2a3a62" stroke-width="2.0" stroke-linejoin="round"/>
<line x1="179.20" y1="699.21" x2="199.92" y2="699.21" stroke="#2a3a62" stroke-width="1.7" stroke-dasharray="1.1,0.9"/>
<circle cx="79.62" cy="642.27" r="2.10" fill="#2a3a62" stroke="none" stroke-width="1"/>
<circle cx="104.14" cy="683.41" r="2.10" fill="#2a3a62" stroke="none" stroke-width="1"/>
<circle cx="128.66" cy="693.39" r="2.10" fill="#2a3a62" stroke="none" stroke-width="1"/>
<circle cx="153.18" cy="695.05" r="2.10" fill="#2a3a62" stroke="none" stroke-width="1"/>
<circle cx="177.70" cy="699.21" r="2.10" fill="#2a3a62" stroke="none" stroke-width="1"/>
<ellipse cx="202.22" cy="699.21" rx="2.2" ry="2.4" fill="#f6e8ee" stroke="#2a3a62" stroke-width="1.2"/>
<line x1="202.22" y1="697.21" x2="202.22" y2="701.21" stroke="#2a3a62" stroke-width="0.8"/>
<ellipse cx="202.22" cy="696.71" rx="2.2" ry="2.4" fill="#f6e8ee" stroke="#8f1238" stroke-width="1.2"/>
<line x1="202.22" y1="694.71" x2="202.22" y2="698.71" stroke="#8f1238" stroke-width="0.8"/>
<text x="167.55" y="686.85" font-size="6.3" fill="#222" textLength="19.50" lengthAdjust="spacingAndGlyphs">46·0 %</text>
<text x="192.05" y="686.85" font-size="6.3" fill="#222" textLength="19.50" lengthAdjust="spacingAndGlyphs">46·0 %</text>
<text x="207.25" y="694.95" font-size="6.3" fill="#222" textLength="37.90" lengthAdjust="spacingAndGlyphs">1·3 % SD 5·6</text>
<text x="214.00" y="703.25" font-size="6.3" fill="#222" textLength="23.00" lengthAdjust="spacingAndGlyphs">(logrank</text>
<text x="206.75" y="710.85" font-size="6.3" fill="#222" textLength="38.30" lengthAdjust="spacingAndGlyphs">2P &gt; 0·1; NS)</text>
<text x="167.55" y="714.15" font-size="6.3" fill="#222" textLength="19.50" lengthAdjust="spacingAndGlyphs">44·8 %</text>
<text x="192.05" y="717.05" font-size="6.3" fill="#222" textLength="19.50" lengthAdjust="spacingAndGlyphs">44·8 %</text>
<ellipse cx="68.90" cy="762.50" rx="1.9" ry="3.0" fill="#8f1238"/>
<line x1="68.90" y1="759.30" x2="68.90" y2="761.50" stroke="#222" stroke-width="0.9"/>
<ellipse cx="78.70" cy="762.50" rx="2.1" ry="2.7" fill="#f7eef1" stroke="#8f1238" stroke-width="1.2"/>
<line x1="78.70" y1="760.30" x2="78.70" y2="764.70" stroke="#8f1238" stroke-width="0.8"/>
<line x1="85.00" y1="762.50" x2="88.50" y2="762.50" stroke="#222" stroke-width="1.2"/>
<text x="91.50" y="765.25" font-size="7.7" fill="#222" textLength="107.70" lengthAdjust="spacingAndGlyphs">allocated Lestaurtinib (% ± s.d.)</text>
<ellipse cx="68.90" cy="774.00" rx="1.9" ry="3.0" fill="#2a3a62"/>
<line x1="68.90" y1="770.80" x2="68.90" y2="773.00" stroke="#222" stroke-width="0.9"/>
<ellipse cx="78.70" cy="774.00" rx="2.1" ry="2.7" fill="#f7eef1" stroke="#2a3a62" stroke-width="1.2"/>
<line x1="78.70" y1="771.80" x2="78.70" y2="776.20" stroke="#2a3a62" stroke-width="0.8"/>
<line x1="85.00" y1="774.00" x2="88.50" y2="774.00" stroke="#222" stroke-width="1.2"/>
<text x="91.50" y="776.75" font-size="7.7" fill="#222" textLength="122.30" lengthAdjust="spacingAndGlyphs">allocated No Lestaurtinib (% ± s.d.)</text>
<text x="7.70" y="818.50" font-size="6.45" fill="#222">Deaths/person–years:</text>
<text x="7.70" y="827.70" font-size="6.45" fill="#222">All patients</text>
<text x="7.70" y="836.90" font-size="6.45" fill="#222">Lestaurtinib</text>
<text x="7.70" y="845.00" font-size="6.45" fill="#222">No Lestaurtinib</text>
<text x="67.36" y="836.90" font-size="6.3" text-anchor="middle" fill="#222">77/263</text>
<text x="91.88" y="836.90" font-size="6.3" text-anchor="middle" fill="#222">55/188</text>
<text x="116.40" y="836.90" font-size="6.3" text-anchor="middle" fill="#222">17/140</text>
<text x="140.92" y="836.90" font-size="6.3" text-anchor="middle" fill="#222">3/93</text>
<text x="165.44" y="836.90" font-size="6.3" text-anchor="middle" fill="#222">1/58</text>
<text x="189.96" y="836.90" font-size="6.3" text-anchor="middle" fill="#222">0/59</text>
<text x="67.36" y="845.00" font-size="6.3" text-anchor="middle" fill="#222">64/177</text>
<text x="91.88" y="845.00" font-size="6.3" text-anchor="middle" fill="#222">37/114</text>
<text x="116.40" y="845.00" font-size="6.3" text-anchor="middle" fill="#222">8/89</text>
<text x="140.92" y="845.00" font-size="6.3" text-anchor="middle" fill="#222">1/62</text>
<text x="165.44" y="845.00" font-size="6.3" text-anchor="middle" fill="#222">2/44</text>
<text x="189.96" y="845.00" font-size="6.3" text-anchor="middle" fill="#222">0/59</text>
<text x="280.70" y="503.90" font-size="12.2" font-weight="bold" fill="#111">C</text>
<text x="322.45" y="517.50" font-size="9.7" font-weight="bold" fill="#111" textLength="177.30" lengthAdjust="spacingAndGlyphs">AML15,17 Lestaurtinib Randomisation</text>
<text x="411.10" y="529.60" font-size="9.7" font-weight="bold" text-anchor="middle" fill="#111">Relapse Free Survival</text>
<text x="281.70" y="540.80" font-size="6.4" font-weight="bold" fill="#1e1e1e" textLength="59.60" lengthAdjust="spacingAndGlyphs">Annual event rates:</text>
<text x="374.20" y="547.70" font-size="6.4" font-weight="bold" text-anchor="middle" fill="#1e1e1e">years 1–5</text>
<text x="448.30" y="547.70" font-size="6.4" font-weight="bold" text-anchor="middle" fill="#1e1e1e">years 6+</text>
<text x="281.70" y="556.80" font-size="6.4" font-weight="bold" fill="#1e1e1e">Lestaurtinib</text>
<text x="281.70" y="565.70" font-size="6.4" font-weight="bold" fill="#1e1e1e">No Lestaurtinib</text>
<text x="374.50" y="556.80" font-size="6.4" font-weight="bold" text-anchor="middle" fill="#1e1e1e">29·1 % SD 2·3</text>
<text x="447.90" y="556.80" font-size="6.4" font-weight="bold" text-anchor="middle" fill="#1e1e1e">2·6 % SD 2·6</text>
<text x="374.50" y="565.70" font-size="6.4" font-weight="bold" text-anchor="middle" fill="#1e1e1e">32·9 % SD 3·0</text>
<text x="447.90" y="565.70" font-size="6.4" font-weight="bold" text-anchor="middle" fill="#1e1e1e">0·0 % SD 0·0</text>
<line x1="309.70" y1="584.50" x2="512.70" y2="584.50" stroke="#2a2a2a" stroke-width="1.4"/>
<line x1="309.70" y1="792.30" x2="512.70" y2="792.30" stroke="#2a2a2a" stroke-width="1.6"/>
<line x1="313.00" y1="581.50" x2="313.00" y2="795.30" stroke="#2a2a2a" stroke-width="1.9"/>
<line x1="509.90" y1="584.50" x2="509.90" y2="792.30" stroke="#2a2a2a" stroke-width="1.9"/>
<line x1="313.00" y1="584.50" x2="313.00" y2="581.90" stroke="#2a2a2a" stroke-width="1.2"/>
<line x1="313.00" y1="792.30" x2="313.00" y2="795.10" stroke="#2a2a2a" stroke-width="1.2"/>
<text x="313.20" y="577.30" font-size="8.2" text-anchor="middle" fill="#222">0</text>
<text x="313.20" y="804.50" font-size="8.2" text-anchor="middle" fill="#222">0</text>
<line x1="337.52" y1="584.50" x2="337.52" y2="581.90" stroke="#2a2a2a" stroke-width="1.2"/>
<line x1="337.52" y1="792.30" x2="337.52" y2="795.10" stroke="#2a2a2a" stroke-width="1.2"/>
<text x="337.72" y="577.30" font-size="8.2" text-anchor="middle" fill="#222">1</text>
<text x="337.72" y="804.50" font-size="8.2" text-anchor="middle" fill="#222">1</text>
<line x1="362.04" y1="584.50" x2="362.04" y2="581.90" stroke="#2a2a2a" stroke-width="1.2"/>
<line x1="362.04" y1="792.30" x2="362.04" y2="795.10" stroke="#2a2a2a" stroke-width="1.2"/>
<text x="362.24" y="577.30" font-size="8.2" text-anchor="middle" fill="#222">2</text>
<text x="362.24" y="804.50" font-size="8.2" text-anchor="middle" fill="#222">2</text>
<line x1="386.56" y1="584.50" x2="386.56" y2="581.90" stroke="#2a2a2a" stroke-width="1.2"/>
<line x1="386.56" y1="792.30" x2="386.56" y2="795.10" stroke="#2a2a2a" stroke-width="1.2"/>
<text x="386.76" y="577.30" font-size="8.2" text-anchor="middle" fill="#222">3</text>
<text x="386.76" y="804.50" font-size="8.2" text-anchor="middle" fill="#222">3</text>
<line x1="411.08" y1="584.50" x2="411.08" y2="581.90" stroke="#2a2a2a" stroke-width="1.2"/>
<line x1="411.08" y1="792.30" x2="411.08" y2="795.10" stroke="#2a2a2a" stroke-width="1.2"/>
<text x="411.28" y="577.30" font-size="8.2" text-anchor="middle" fill="#222">4</text>
<text x="411.28" y="804.50" font-size="8.2" text-anchor="middle" fill="#222">4</text>
<line x1="435.60" y1="584.50" x2="435.60" y2="581.90" stroke="#2a2a2a" stroke-width="1.2"/>
<line x1="435.60" y1="792.30" x2="435.60" y2="795.10" stroke="#2a2a2a" stroke-width="1.2"/>
<text x="435.80" y="577.30" font-size="8.2" text-anchor="middle" fill="#222">5</text>
<text x="435.80" y="804.50" font-size="8.2" text-anchor="middle" fill="#222">5</text>
<line x1="460.12" y1="584.50" x2="460.12" y2="581.90" stroke="#2a2a2a" stroke-width="1.2"/>
<line x1="460.12" y1="792.30" x2="460.12" y2="795.10" stroke="#2a2a2a" stroke-width="1.2"/>
<text x="460.32" y="577.30" font-size="8.2" text-anchor="middle" fill="#222">6+</text>
<text x="460.32" y="804.50" font-size="8.2" text-anchor="middle" fill="#222">6+</text>
<text x="488.35" y="577.30" font-size="8.2" fill="#222" textLength="19.50" lengthAdjust="spacingAndGlyphs">years</text>
<text x="488.35" y="804.50" font-size="8.2" fill="#222" textLength="19.50" lengthAdjust="spacingAndGlyphs">years</text>
<line x1="309.70" y1="792.30" x2="313.00" y2="792.30" stroke="#2a2a2a" stroke-width="1.3"/>
<text x="306.90" y="795.25" font-size="8.2" text-anchor="end" fill="#222">0</text>
<line x1="309.70" y1="771.52" x2="313.00" y2="771.52" stroke="#2a2a2a" stroke-width="1.3"/>
<text x="306.90" y="774.47" font-size="8.2" text-anchor="end" fill="#222">10</text>
<line x1="309.70" y1="750.74" x2="313.00" y2="750.74" stroke="#2a2a2a" stroke-width="1.3"/>
<text x="306.90" y="753.69" font-size="8.2" text-anchor="end" fill="#222">20</text>
<line x1="309.70" y1="729.96" x2="313.00" y2="729.96" stroke="#2a2a2a" stroke-width="1.3"/>
<text x="306.90" y="732.91" font-size="8.2" text-anchor="end" fill="#222">30</text>
<line x1="309.70" y1="709.18" x2="313.00" y2="709.18" stroke="#2a2a2a" stroke-width="1.3"/>
<text x="306.90" y="712.13" font-size="8.2" text-anchor="end" fill="#222">40</text>
<line x1="309.70" y1="688.40" x2="313.00" y2="688.40" stroke="#2a2a2a" stroke-width="1.3"/>
<text x="306.90" y="691.35" font-size="8.2" text-anchor="end" fill="#222">50</text>
<line x1="309.70" y1="667.62" x2="313.00" y2="667.62" stroke="#2a2a2a" stroke-width="1.3"/>
<text x="306.90" y="670.57" font-size="8.2" text-anchor="end" fill="#222">60</text>
<line x1="309.70" y1="646.84" x2="313.00" y2="646.84" stroke="#2a2a2a" stroke-width="1.3"/>
<text x="306.90" y="649.79" font-size="8.2" text-anchor="end" fill="#222">70</text>
<line x1="309.70" y1="626.06" x2="313.00" y2="626.06" stroke="#2a2a2a" stroke-width="1.3"/>
<text x="306.90" y="629.01" font-size="8.2" text-anchor="end" fill="#222">80</text>
<line x1="309.70" y1="605.28" x2="313.00" y2="605.28" stroke="#2a2a2a" stroke-width="1.3"/>
<text x="306.90" y="608.23" font-size="8.2" text-anchor="end" fill="#222">90</text>
<line x1="309.70" y1="584.50" x2="313.00" y2="584.50" stroke="#2a2a2a" stroke-width="1.3"/>
<text x="306.90" y="587.45" font-size="8.2" text-anchor="end" fill="#222">100</text>
<text transform="translate(287.80,685.60) rotate(-90)" font-size="10.2" fill="#222" x="-68.10" y="0" textLength="136.20" lengthAdjust="spacingAndGlyphs">Estimated percentage still alive in CR</text>
<line x1="337.52" y1="664.10" x2="337.52" y2="690.50" stroke="#222" stroke-width="1.3"/>
<circle cx="337.52" cy="664.80" r="0.90" fill="#222" stroke="none" stroke-width="1"/>
<circle cx="337.52" cy="689.80" r="0.90" fill="#222" stroke="none" stroke-width="1"/>
<line x1="362.04" y1="687.40" x2="362.04" y2="717.40" stroke="#222" stroke-width="1.3"/>
<circle cx="362.04" cy="688.10" r="0.90" fill="#222" stroke="none" stroke-width="1"/>
<circle cx="362.04" cy="716.70" r="0.90" fill="#222" stroke="none" stroke-width="1"/>
<line x1="386.56" y1="695.70" x2="386.56" y2="726.20" stroke="#222" stroke-width="1.3"/>
<circle cx="386.56" cy="696.40" r="0.90" fill="#222" stroke="none" stroke-width="1"/>
<circle cx="386.56" cy="725.50" r="0.90" fill="#222" stroke="none" stroke-width="1"/>
<line x1="411.08" y1="699.10" x2="411.08" y2="726.50" stroke="#222" stroke-width="1.3"/>
<circle cx="411.08" cy="699.80" r="0.90" fill="#222" stroke="none" stroke-width="1"/>
<circle cx="411.08" cy="725.80" r="0.90" fill="#222" stroke="none" stroke-width="1"/>
<line x1="435.60" y1="701.20" x2="435.60" y2="728.30" stroke="#222" stroke-width="1.3"/>
<circle cx="435.60" cy="701.90" r="0.90" fill="#222" stroke="none" stroke-width="1"/>
<circle cx="435.60" cy="727.60" r="0.90" fill="#222" stroke="none" stroke-width="1"/>
<line x1="460.12" y1="703.00" x2="460.12" y2="728.30" stroke="#222" stroke-width="1.3"/>
<circle cx="460.12" cy="703.70" r="0.90" fill="#222" stroke="none" stroke-width="1"/>
<circle cx="460.12" cy="727.60" r="0.90" fill="#222" stroke="none" stroke-width="1"/>
<path d="M313.00,584.50 L337.52,673.44 L362.04,696.09 L386.56,703.78 L411.08,707.52 L435.60,709.60" fill="none" stroke="#8f1238" stroke-width="2.0" stroke-linejoin="round"/>
<line x1="437.10" y1="709.60" x2="457.82" y2="711.88" stroke="#8f1238" stroke-width="1.7" stroke-dasharray="1.1,0.9"/>
<circle cx="337.52" cy="673.44" r="2.10" fill="#8f1238" stroke="none" stroke-width="1"/>
<circle cx="362.04" cy="696.09" r="2.10" fill="#8f1238" stroke="none" stroke-width="1"/>
<circle cx="386.56" cy="703.78" r="2.10" fill="#8f1238" stroke="none" stroke-width="1"/>
<circle cx="411.08" cy="707.52" r="2.10" fill="#8f1238" stroke="none" stroke-width="1"/>
<circle cx="435.60" cy="709.60" r="2.10" fill="#8f1238" stroke="none" stroke-width="1"/>
<path d="M313.00,584.50 L337.52,678.84 L362.04,706.06 L386.56,715.41 L411.08,715.83 L435.60,717.91" fill="none" stroke="#2a3a62" stroke-width="2.0" stroke-linejoin="round"/>
<line x1="437.10" y1="717.91" x2="457.82" y2="718.12" stroke="#2a3a62" stroke-width="1.7" stroke-dasharray="1.1,0.9"/>
<circle cx="337.52" cy="678.84" r="2.10" fill="#2a3a62" stroke="none" stroke-width="1"/>
<circle cx="362.04" cy="706.06" r="2.10" fill="#2a3a62" stroke="none" stroke-width="1"/>
<circle cx="386.56" cy="715.41" r="2.10" fill="#2a3a62" stroke="none" stroke-width="1"/>
<circle cx="411.08" cy="715.83" r="2.10" fill="#2a3a62" stroke="none" stroke-width="1"/>
<circle cx="435.60" cy="717.91" r="2.10" fill="#2a3a62" stroke="none" stroke-width="1"/>
<ellipse cx="460.12" cy="718.12" rx="2.2" ry="2.4" fill="#f6e8ee" stroke="#2a3a62" stroke-width="1.2"/>
<line x1="460.12" y1="716.12" x2="460.12" y2="720.12" stroke="#2a3a62" stroke-width="0.8"/>
<ellipse cx="460.12" cy="711.88" rx="2.2" ry="2.4" fill="#f6e8ee" stroke="#8f1238" stroke-width="1.2"/>
<line x1="460.12" y1="709.88" x2="460.12" y2="713.88" stroke="#8f1238" stroke-width="0.8"/>
<text x="427.90" y="698.75" font-size="6.3" fill="#222" textLength="19.60" lengthAdjust="spacingAndGlyphs">39·7 %</text>
<text x="452.40" y="701.85" font-size="6.3" fill="#222" textLength="19.60" lengthAdjust="spacingAndGlyphs">38·7 %</text>
<text x="467.95" y="710.45" font-size="6.3" fill="#222" textLength="37.50" lengthAdjust="spacingAndGlyphs">3·0 % SD 6·3</text>
<text x="475.00" y="717.95" font-size="6.3" fill="#222" textLength="23.20" lengthAdjust="spacingAndGlyphs">(logrank</text>
<text x="467.15" y="725.75" font-size="6.3" fill="#222" textLength="39.30" lengthAdjust="spacingAndGlyphs">2P &gt; 0·1; NS)</text>
<text x="427.90" y="734.85" font-size="6.3" fill="#222" textLength="19.60" lengthAdjust="spacingAndGlyphs">35·7 %</text>
<text x="452.40" y="734.85" font-size="6.3" fill="#222" textLength="19.60" lengthAdjust="spacingAndGlyphs">35·7 %</text>
<ellipse cx="324.60" cy="765.60" rx="1.9" ry="3.0" fill="#8f1238"/>
<line x1="324.60" y1="762.40" x2="324.60" y2="764.60" stroke="#222" stroke-width="0.9"/>
<ellipse cx="334.40" cy="765.60" rx="2.1" ry="2.7" fill="#f7eef1" stroke="#8f1238" stroke-width="1.2"/>
<line x1="334.40" y1="763.40" x2="334.40" y2="767.80" stroke="#8f1238" stroke-width="0.8"/>
<line x1="340.70" y1="765.60" x2="344.20" y2="765.60" stroke="#222" stroke-width="1.2"/>
<text x="347.20" y="768.35" font-size="7.7" fill="#222" textLength="107.70" lengthAdjust="spacingAndGlyphs">allocated Lestaurtinib (% ± s.d.)</text>
<ellipse cx="324.60" cy="777.40" rx="1.9" ry="3.0" fill="#2a3a62"/>
<line x1="324.60" y1="774.20" x2="324.60" y2="776.40" stroke="#222" stroke-width="0.9"/>
<ellipse cx="334.40" cy="777.40" rx="2.1" ry="2.7" fill="#f7eef1" stroke="#2a3a62" stroke-width="1.2"/>
<line x1="334.40" y1="775.20" x2="334.40" y2="779.60" stroke="#2a3a62" stroke-width="0.8"/>
<line x1="340.70" y1="777.40" x2="344.20" y2="777.40" stroke="#222" stroke-width="1.2"/>
<text x="347.20" y="780.15" font-size="7.7" fill="#222" textLength="122.30" lengthAdjust="spacingAndGlyphs">allocated No Lestaurtinib (% ± s.d.)</text>
<text x="265.60" y="818.50" font-size="6.45" fill="#222">Events/person–years:</text>
<text x="265.60" y="827.70" font-size="6.45" fill="#222">All patients</text>
<text x="265.60" y="836.90" font-size="6.45" fill="#222">Lestaurtinib</text>
<text x="265.60" y="845.00" font-size="6.45" fill="#222">No Lestaurtinib</text>
<text x="325.26" y="836.90" font-size="6.3" text-anchor="middle" fill="#222">124/221</text>
<text x="349.78" y="836.90" font-size="6.3" text-anchor="middle" fill="#222">28/131</text>
<text x="374.30" y="836.90" font-size="6.3" text-anchor="middle" fill="#222">9/102</text>
<text x="398.82" y="836.90" font-size="6.3" text-anchor="middle" fill="#222">3/70</text>
<text x="423.34" y="836.90" font-size="6.3" text-anchor="middle" fill="#222">1/43</text>
<text x="447.86" y="836.90" font-size="6.3" text-anchor="middle" fill="#222">1/39</text>
<text x="325.26" y="845.00" font-size="6.3" text-anchor="middle" fill="#222">90/147</text>
<text x="349.78" y="845.00" font-size="6.3" text-anchor="middle" fill="#222">24/80</text>
<text x="374.30" y="845.00" font-size="6.3" text-anchor="middle" fill="#222">7/63</text>
<text x="398.82" y="845.00" font-size="6.3" text-anchor="middle" fill="#222">0/46</text>
<text x="423.34" y="845.00" font-size="6.3" text-anchor="middle" fill="#222">1/35</text>
<text x="447.86" y="845.00" font-size="6.3" text-anchor="middle" fill="#222">0/47</text>
</g>
<rect x="0" y="0" width="520" height="1.3" fill="#000"/>
<rect x="0" y="0" width="1.4" height="852" fill="#000"/>
<rect x="518.5" y="0" width="1.5" height="852" fill="#000"/>
<rect x="0" y="850.4" width="520" height="1.6" fill="#000"/>
</svg>
</body></html>
